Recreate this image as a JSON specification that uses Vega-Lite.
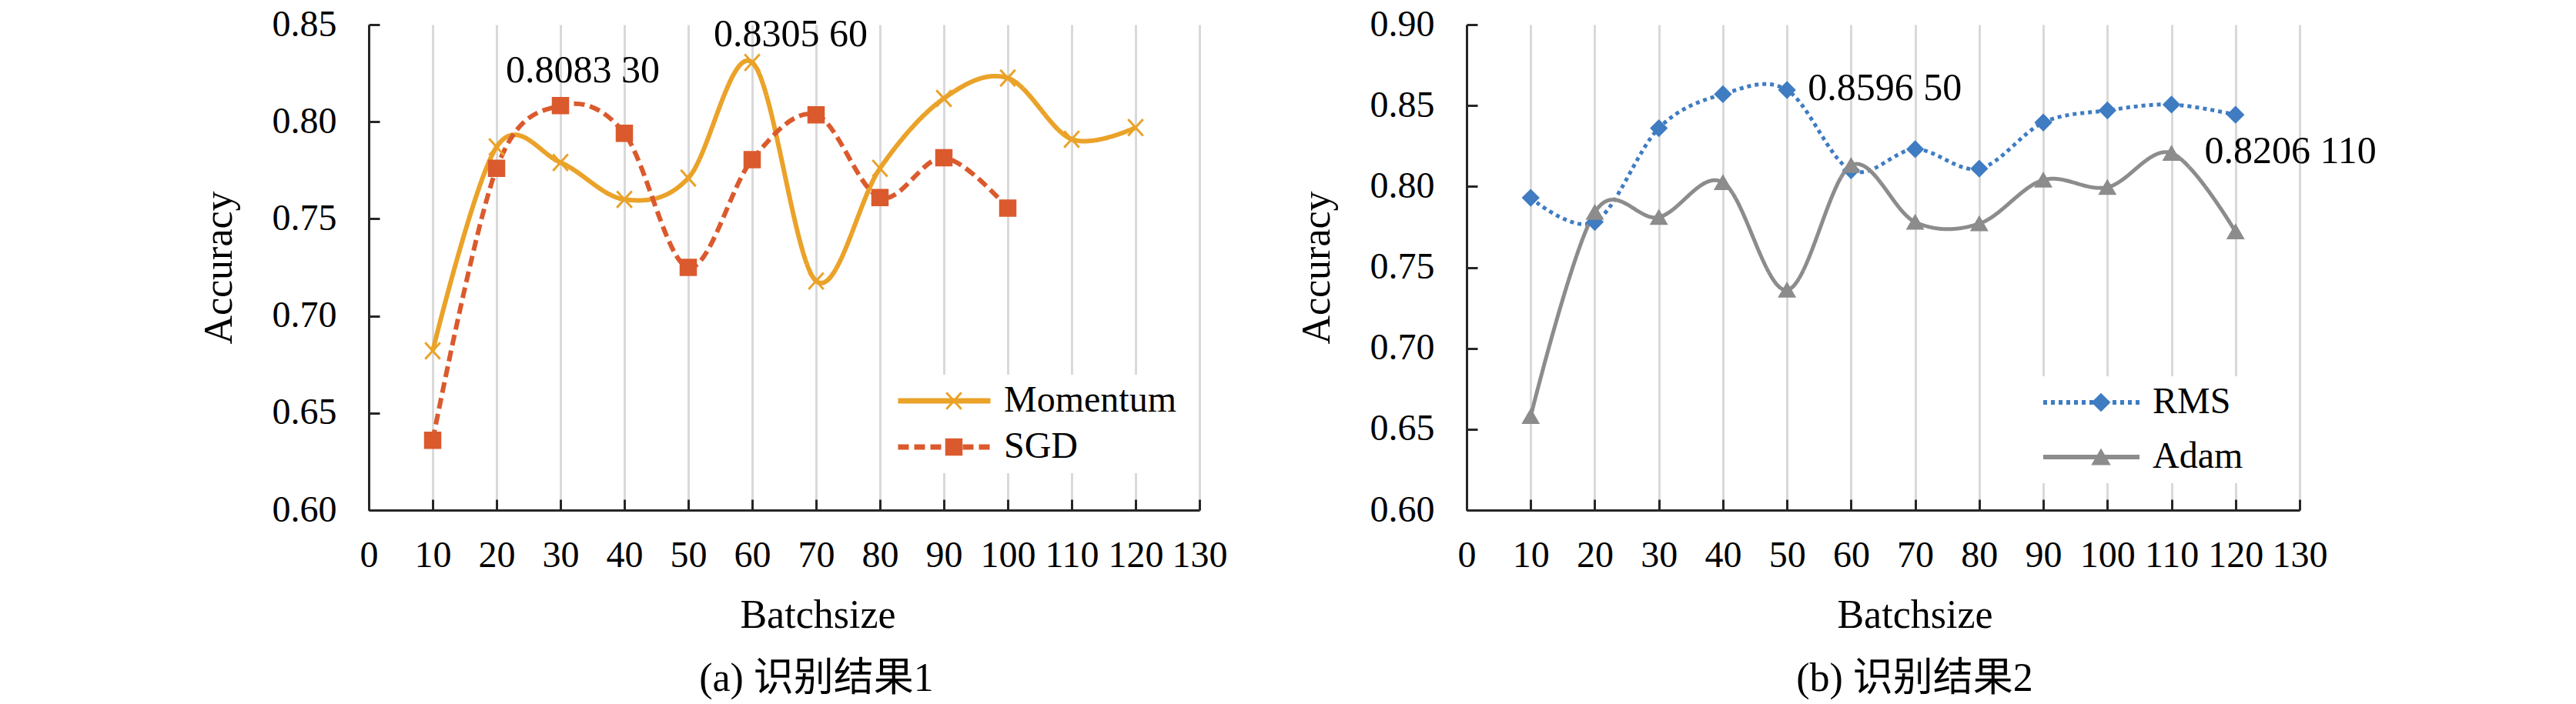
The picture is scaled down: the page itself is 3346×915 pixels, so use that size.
{
  "$schema": "https://vega.github.io/schema/vega-lite/v6.json",
  "background": "white",
  "padding": {"left": 258, "top": 8, "right": 250, "bottom": 5},
  "resolve": {
    "scale": {"color": "independent", "fill": "independent", "stroke": "independent", "shape": "independent", "strokeDash": "independent", "x": "independent", "y": "independent"},
    "legend": {"color": "independent", "fill": "independent", "stroke": "independent", "shape": "independent", "strokeDash": "independent"}
  },
  "config": {
    "view": {"stroke": null},
    "font": "Liberation Serif, Times New Roman, serif",
    "concat": {"spacing": 90},
    "axis": {
      "labelFont": "Liberation Serif, Times New Roman, serif",
      "labelFontSize": 48,
      "labelColor": "#000000",
      "labelOverlap": false,
      "labelFlush": false,
      "titleFont": "Liberation Serif, Times New Roman, serif",
      "titleFontSize": 52,
      "titleFontWeight": "normal",
      "titleColor": "#000000",
      "domainColor": "#262626",
      "domainWidth": 3,
      "tickColor": "#262626",
      "tickWidth": 3,
      "tickSize": -14
    },
    "legend": {
      "title": null,
      "orient": "none",
      "labelFont": "Liberation Serif, Times New Roman, serif",
      "labelFontSize": 48,
      "labelColor": "#000000",
      "labelLimit": 400,
      "clipHeight": 48,
      "padding": 10
    }
  },
  "datasets": {
    "left": [
      {"batch": 10, "acc": 0.682, "series": "Momentum"},
      {"batch": 20, "acc": 0.787, "series": "Momentum"},
      {"batch": 30, "acc": 0.779, "series": "Momentum"},
      {"batch": 40, "acc": 0.760, "series": "Momentum"},
      {"batch": 50, "acc": 0.771, "series": "Momentum"},
      {"batch": 60, "acc": 0.8305, "series": "Momentum"},
      {"batch": 70, "acc": 0.718, "series": "Momentum"},
      {"batch": 80, "acc": 0.776, "series": "Momentum"},
      {"batch": 90, "acc": 0.812, "series": "Momentum"},
      {"batch": 100, "acc": 0.8225, "series": "Momentum"},
      {"batch": 110, "acc": 0.791, "series": "Momentum"},
      {"batch": 120, "acc": 0.797, "series": "Momentum"},
      {"batch": 10, "acc": 0.636, "series": "SGD"},
      {"batch": 20, "acc": 0.776, "series": "SGD"},
      {"batch": 30, "acc": 0.8083, "series": "SGD"},
      {"batch": 40, "acc": 0.794, "series": "SGD"},
      {"batch": 50, "acc": 0.725, "series": "SGD"},
      {"batch": 60, "acc": 0.7805, "series": "SGD"},
      {"batch": 70, "acc": 0.8035, "series": "SGD"},
      {"batch": 80, "acc": 0.761, "series": "SGD"},
      {"batch": 90, "acc": 0.7815, "series": "SGD"},
      {"batch": 100, "acc": 0.7555, "series": "SGD"}
    ],
    "right": [
      {"batch": 10, "acc": 0.793, "series": "RMS"},
      {"batch": 20, "acc": 0.778, "series": "RMS"},
      {"batch": 30, "acc": 0.836, "series": "RMS"},
      {"batch": 40, "acc": 0.857, "series": "RMS"},
      {"batch": 50, "acc": 0.8596, "series": "RMS"},
      {"batch": 60, "acc": 0.810, "series": "RMS"},
      {"batch": 70, "acc": 0.823, "series": "RMS"},
      {"batch": 80, "acc": 0.811, "series": "RMS"},
      {"batch": 90, "acc": 0.8395, "series": "RMS"},
      {"batch": 100, "acc": 0.847, "series": "RMS"},
      {"batch": 110, "acc": 0.8506, "series": "RMS"},
      {"batch": 120, "acc": 0.8443, "series": "RMS"},
      {"batch": 10, "acc": 0.658, "series": "Adam"},
      {"batch": 20, "acc": 0.784, "series": "Adam"},
      {"batch": 30, "acc": 0.781, "series": "Adam"},
      {"batch": 40, "acc": 0.8025, "series": "Adam"},
      {"batch": 50, "acc": 0.736, "series": "Adam"},
      {"batch": 60, "acc": 0.813, "series": "Adam"},
      {"batch": 70, "acc": 0.778, "series": "Adam"},
      {"batch": 80, "acc": 0.777, "series": "Adam"},
      {"batch": 90, "acc": 0.804, "series": "Adam"},
      {"batch": 100, "acc": 0.7995, "series": "Adam"},
      {"batch": 110, "acc": 0.8206, "series": "Adam"},
      {"batch": 120, "acc": 0.772, "series": "Adam"}
    ],
    "notes": [
      {"batch": 30, "acc": 0.8083, "label": "0.8083 30"},
      {"batch": 60, "acc": 0.8305, "label": "0.8305 60"},
      {"batch": 50, "acc": 0.8596, "label": "0.8596 50"},
      {"batch": 110, "acc": 0.8206, "label": "0.8206 110"}
    ]
  },
  "hconcat": [
    {
      "width": 1079,
      "height": 631,
      "title": {"text": "(a) 识别结果1", "orient": "bottom", "frame": "group", "anchor": "middle", "baseline": "top", "font": "Liberation Serif, Times New Roman, Noto Sans CJK SC, serif", "fontSize": 52, "fontWeight": "normal", "color": "#000000", "dx": 42, "offset": 32},
      "encoding": {
        "x": {"field": "batch", "type": "quantitative", "title": "Batchsize",
          "scale": {"domain": [0, 130], "nice": false, "zero": false},
          "axis": {"values": [0, 10, 20, 30, 40, 50, 60, 70, 80, 90, 100, 110, 120, 130], "grid": true, "gridColor": "#D9D9D9", "gridWidth": 3, "labelPadding": 49, "titlePadding": 28, "titleX": 583}},
        "y": {"field": "acc", "type": "quantitative", "title": "Accuracy",
          "scale": {"domain": [0.6, 0.85], "nice": false, "zero": false},
          "axis": {"values": [0.6, 0.65, 0.7, 0.75, 0.8, 0.85], "format": ".2f", "grid": false, "labelPadding": 56, "titlePadding": 42}}
      },
      "layer": [
        {
          "data": {"name": "left"},
          "mark": {"type": "line", "interpolate": "cardinal", "strokeWidth": 6},
          "encoding": {
            "color": {"field": "series", "type": "nominal",
              "scale": {"domain": ["Momentum", "SGD"], "range": ["#EAA228", "#DB5A2D"]},
              "legend": {"legendX": 674, "legendY": 455, "rowPadding": 12, "symbolType": "stroke", "symbolSize": 14400, "symbolStrokeWidth": 7, "labelOffset": 14, "fillColor": "white"}},
            "strokeDash": {"field": "series", "type": "nominal",
              "scale": {"domain": ["Momentum", "SGD"], "range": [[1, 0], [14, 7]]},
              "legend": {"legendX": 674, "legendY": 455, "rowPadding": 12, "symbolType": "stroke", "symbolSize": 14400, "symbolStrokeWidth": 7, "labelOffset": 14, "fillColor": "white"}}
          }
        },
        {
          "data": {"name": "left"},
          "transform": [{"calculate": "datum.series", "as": "marker"}],
          "mark": {"type": "point", "filled": true, "size": 380, "strokeWidth": 3, "opacity": 1},
          "encoding": {
            "fill": {"field": "marker", "type": "nominal", "sort": "ascending", "scale": {"range": ["#EAA228", "#DB5A2D"]},
              "legend": {"legendX": 726, "legendY": 455, "rowPadding": 12, "symbolSize": 380, "symbolStrokeWidth": 3, "labelExpr": "''", "fillColor": "transparent"}},
            "stroke": {"field": "marker", "type": "nominal", "sort": "ascending", "scale": {"range": ["#EAA228", "#DB5A2D"]},
              "legend": {"legendX": 726, "legendY": 455, "rowPadding": 12, "symbolSize": 380, "symbolStrokeWidth": 3, "labelExpr": "''", "fillColor": "transparent"}},
            "shape": {"field": "marker", "type": "nominal", "sort": "ascending", "scale": {"range": ["M-1,-1.1L1,1.1M-1,1.1L1,-1.1", "square"]},
              "legend": {"legendX": 726, "legendY": 455, "rowPadding": 12, "symbolSize": 380, "symbolStrokeWidth": 3, "labelExpr": "''", "fillColor": "transparent"}}
          }
        },
        {
          "data": {"name": "notes"},
          "transform": [{"filter": "datum.label === '0.8083 30'"}],
          "mark": {"type": "text", "font": "Liberation Serif, Times New Roman, serif", "fontSize": 50, "color": "#000000", "align": "center", "baseline": "alphabetic", "dx": 29, "dy": -30},
          "encoding": {"text": {"field": "label"}}
        },
        {
          "data": {"name": "notes"},
          "transform": [{"filter": "datum.label === '0.8305 60'"}],
          "mark": {"type": "text", "font": "Liberation Serif, Times New Roman, serif", "fontSize": 50, "color": "#000000", "align": "center", "baseline": "alphabetic", "dx": 50, "dy": -21},
          "encoding": {"text": {"field": "label"}}
        }
      ]
    },
    {
      "width": 1082,
      "height": 631,
      "title": {"text": "(b) 识别结果2", "orient": "bottom", "frame": "group", "anchor": "middle", "baseline": "top", "font": "Liberation Serif, Times New Roman, Noto Sans CJK SC, serif", "fontSize": 52, "fontWeight": "normal", "color": "#000000", "dx": 41, "offset": 32},
      "encoding": {
        "x": {"field": "batch", "type": "quantitative", "title": "Batchsize",
          "scale": {"domain": [0, 130], "nice": false, "zero": false},
          "axis": {"values": [0, 10, 20, 30, 40, 50, 60, 70, 80, 90, 100, 110, 120, 130], "grid": true, "gridColor": "#D9D9D9", "gridWidth": 3, "labelPadding": 49, "titlePadding": 28, "titleX": 582}},
        "y": {"field": "acc", "type": "quantitative", "title": "Accuracy",
          "scale": {"domain": [0.6, 0.9], "nice": false, "zero": false},
          "axis": {"values": [0.6, 0.65, 0.7, 0.75, 0.8, 0.85, 0.9], "format": ".2f", "grid": false, "labelPadding": 56, "titlePadding": 42}}
      },
      "layer": [
        {
          "data": {"name": "right"},
          "mark": {"type": "line", "interpolate": "cardinal", "strokeWidth": 5},
          "encoding": {
            "color": {"field": "series", "type": "nominal",
              "scale": {"domain": ["RMS", "Adam"], "range": ["#3F7CC2", "#8C8C8C"]},
              "legend": {"legendX": 736, "legendY": 457, "rowPadding": 23, "symbolType": "stroke", "symbolSize": 15625, "symbolStrokeWidth": 6, "labelOffset": 14, "fillColor": "white"}},
            "strokeDash": {"field": "series", "type": "nominal",
              "scale": {"domain": ["RMS", "Adam"], "range": [[5, 5], [1, 0]]},
              "legend": {"legendX": 736, "legendY": 457, "rowPadding": 23, "symbolType": "stroke", "symbolSize": 15625, "symbolStrokeWidth": 6, "labelOffset": 14, "fillColor": "white"}}
          }
        },
        {
          "data": {"name": "right"},
          "transform": [{"calculate": "datum.series", "as": "marker"}],
          "mark": {"type": "point", "filled": true, "size": 420, "strokeWidth": 2, "opacity": 1},
          "encoding": {
            "fill": {"field": "marker", "type": "nominal", "sort": "descending", "scale": {"range": ["#3F7CC2", "#8C8C8C"]},
              "legend": {"legendX": 790, "legendY": 457, "rowPadding": 23, "symbolSize": 480, "symbolStrokeWidth": 2, "labelExpr": "''", "fillColor": "transparent"}},
            "stroke": {"field": "marker", "type": "nominal", "sort": "descending", "scale": {"range": ["#3F7CC2", "#8C8C8C"]},
              "legend": {"legendX": 790, "legendY": 457, "rowPadding": 23, "symbolSize": 480, "symbolStrokeWidth": 2, "labelExpr": "''", "fillColor": "transparent"}},
            "shape": {"field": "marker", "type": "nominal", "sort": "descending", "scale": {"range": ["diamond", "triangle-up"]},
              "legend": {"legendX": 790, "legendY": 457, "rowPadding": 23, "symbolSize": 480, "symbolStrokeWidth": 2, "labelExpr": "''", "fillColor": "transparent"}}
          }
        },
        {
          "data": {"name": "notes"},
          "transform": [{"filter": "datum.label === '0.8596 50'"}],
          "mark": {"type": "text", "font": "Liberation Serif, Times New Roman, serif", "fontSize": 50, "color": "#000000", "align": "left", "baseline": "alphabetic", "dx": 27, "dy": 13},
          "encoding": {"text": {"field": "label"}}
        },
        {
          "data": {"name": "notes"},
          "transform": [{"filter": "datum.label === '0.8206 110'"}],
          "mark": {"type": "text", "font": "Liberation Serif, Times New Roman, serif", "fontSize": 50, "color": "#000000", "align": "left", "baseline": "alphabetic", "dx": 43, "dy": 13},
          "encoding": {"text": {"field": "label"}}
        }
      ]
    }
  ]
}
